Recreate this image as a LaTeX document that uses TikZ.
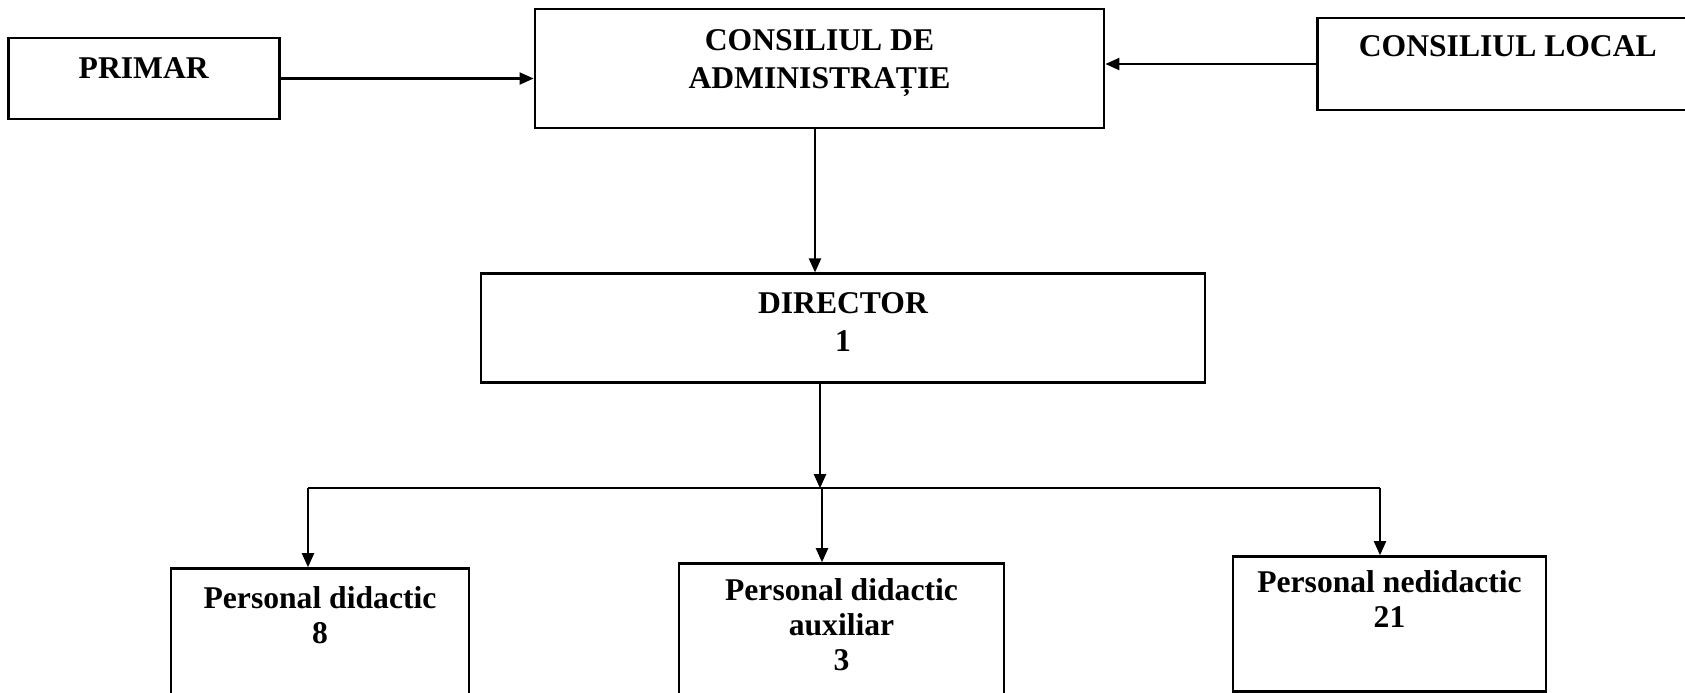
\documentclass[tikz,border=0pt]{standalone}
\usepackage{fontspec}
\setmainfont{Liberation Serif}
\usetikzlibrary{positioning,arrows.meta}

\begin{document}
\begin{tikzpicture}
[box/.style={draw,line width=0.8pt,inner sep=0pt,align=center,font=\bfseries\fontsize{9}{10.8}\selectfont},
 staff/.style={box,font=\bfseries\fontsize{9}{10}\selectfont},
 arr/.style={line width=0.6pt,-{Triangle[length=1.4mm,width=1.2mm]}}]
\useasboundingbox (0,0) rectangle (16.85,-6.92);
\node[box,minimum width=5.69cm,text height=0.79cm,text depth=0.40cm](ca) at (8.195,-0.685){CONSILIUL DE\\ADMINISTRAȚIE};
\node[box,left=2.53cm of ca,yshift=-0.1cm,minimum width=2.71cm,text height=0.40cm,text depth=0.41cm](primar){PRIMAR};
\node[box,right=2.11cm of ca,yshift=0.045cm,minimum width=3.80cm,text height=0.38cm,text depth=0.54cm](cl){CONSILIUL LOCAL};
\node[box,below=1.43cm of ca,xshift=0.235cm,minimum width=7.24cm,text height=0.78cm,text depth=0.31cm](dir){DIRECTOR\\1};
\node[staff,below=1.83cm of dir,xshift=-5.23cm,minimum width=2.98cm,text height=0.75cm,text depth=0.62cm](pd){Personal didactic\\8};
\node[staff,below=1.78cm of dir,xshift=-0.015cm,minimum width=3.25cm,text height=1.07cm,text depth=0.24cm](pda){Personal didactic\\auxiliar\\3};
\node[staff,below=1.71cm of dir,xshift=5.465cm,minimum width=3.13cm,text height=0.71cm,text depth=0.64cm](pn){Personal nedidactic\\21};
% connectors
\draw[arr] (primar.east) -- (primar.east -| ca.west);
\draw[arr] (cl.west) -- (cl.west -| ca.east);
\coordinate (caout) at ([xshift=-0.045cm]ca.south);
\draw[arr] (caout) -- (caout |- dir.north);
\coordinate[below=1.04cm of dir.south,xshift=-0.23cm] (hub);
\draw[arr] (dir.south -| hub) -- (hub);
\coordinate (pdin) at ([xshift=-0.12cm]pd.north);
\coordinate (pdain) at ([xshift=-0.195cm]pda.north);
\coordinate (pnin) at ([xshift=-0.095cm]pn.north);
\draw[line width=0.6pt] (pdin |- hub) -- (pnin |- hub);
\draw[arr] (pdin |- hub) -- (pdin);
\draw[arr] (pdain |- hub) -- (pdain);
\draw[arr] (pnin |- hub) -- (pnin);
\end{tikzpicture}
\end{document}
